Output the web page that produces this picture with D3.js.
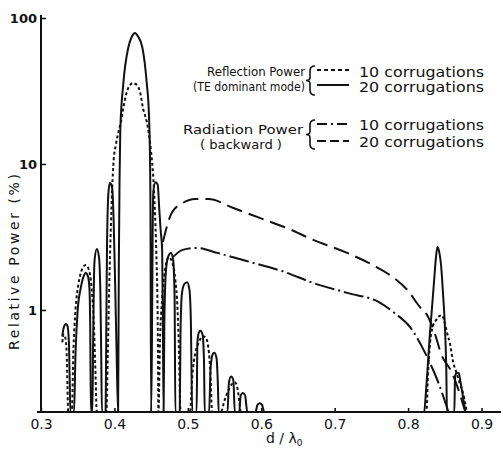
<!DOCTYPE html>
<html>
<head>
<meta charset="utf-8">
<script src="https://cdn.jsdelivr.net/npm/d3@7"></script>
<style>
  body { margin: 0; background: #fff; }
  text { font-family: "DejaVu Sans", sans-serif; fill: #111; }
</style>
</head>
<body>
<div id="chart"></div>
<script>
// Data: [d/lambda, relative power %]
const reflection10 = [
  [0.329, 0.6], [0.331, 0.68], [0.333, 0.65], [0.335, 0.5], [0.336, 0.3], [0.337, 0.2],
  [0.342, 0.2], [0.344, 0.5], [0.347, 1.0], [0.351, 1.5], [0.356, 1.9], [0.361, 2.03], [0.365, 1.9], [0.369, 1.4], [0.372, 0.8], [0.374, 0.4], [0.376, 0.2],
  [0.389, 0.2], [0.391, 0.5], [0.393, 1.5], [0.395, 3.5], [0.397, 6.9], [0.399, 10.6], [0.402, 13.5], [0.406, 17], [0.409, 19.5], [0.412, 24], [0.416, 30], [0.420, 34], [0.425, 35.8], [0.430, 35], [0.435, 31], [0.439, 24], [0.444, 19.5], [0.447, 16], [0.450, 12], [0.453, 8], [0.455, 5], [0.457, 2.5], [0.459, 0.8], [0.460, 0.2],
  [0.462, 0.6], [0.465, 1.2], [0.469, 1.9], [0.474, 2.3], [0.479, 2.1], [0.483, 1.6], [0.486, 1.0], [0.488, 0.5], [0.490, 0.2],
  [0.503, 0.2], [0.506, 0.35], [0.510, 0.5], [0.515, 0.6], [0.520, 0.66], [0.524, 0.65], [0.528, 0.55], [0.531, 0.35], [0.533, 0.2],
  [0.545, 0.2], [0.550, 0.24], [0.555, 0.28], [0.560, 0.31], [0.564, 0.32], [0.567, 0.3], [0.570, 0.24], [0.572, 0.2],
  [0.825, 0.2], [0.827, 0.35], [0.830, 0.6], [0.833, 0.75], [0.838, 0.85], [0.843, 0.91], [0.846, 0.92], [0.849, 0.85], [0.853, 0.7], [0.857, 0.59], [0.861, 0.45], [0.866, 0.37], [0.870, 0.32], [0.874, 0.28], [0.877, 0.24], [0.880, 0.2]
];

const reflection20 = [
  [0.329, 0.66], [0.331, 0.76], [0.334, 0.80], [0.336, 0.78], [0.338, 0.6], [0.339, 0.35], [0.340, 0.2],
  [0.345, 0.2], [0.347, 0.5], [0.350, 1.0], [0.354, 1.4], [0.358, 1.7], [0.361, 1.79], [0.364, 1.7], [0.366, 1.4], [0.367, 0.8], [0.368, 0.2],
  [0.370, 0.2], [0.371, 0.6], [0.372, 1.5], [0.373, 2.2], [0.376, 2.62], [0.379, 2.3], [0.381, 1.2], [0.382, 0.5], [0.383, 0.2],
  [0.388, 0.2], [0.389, 0.8], [0.390, 3], [0.392, 6.5], [0.394, 7.4], [0.397, 6.8], [0.399, 4], [0.401, 1.5], [0.403, 0.5], [0.405, 0.2],
  [0.406, 2], [0.407, 8], [0.408, 17], [0.412, 35], [0.419, 63], [0.424, 75], [0.428, 79], [0.432, 75], [0.438, 63], [0.444, 36], [0.447, 22], [0.448, 15], [0.449, 6], [0.450, 0.2],
  [0.451, 0.5], [0.452, 3], [0.453, 6.5], [0.456, 7.5], [0.459, 7.2], [0.461, 5], [0.463, 3.5], [0.465, 2.6], [0.466, 0.8], [0.467, 0.2],
  [0.468, 0.8], [0.470, 1.8], [0.473, 2.3], [0.477, 2.46], [0.480, 2.2], [0.482, 1.2], [0.483, 0.2],
  [0.489, 0.2], [0.490, 0.7], [0.492, 1.3], [0.495, 1.5], [0.499, 1.55], [0.502, 1.4], [0.504, 0.9], [0.506, 0.2],
  [0.512, 0.2], [0.513, 0.6], [0.515, 0.7], [0.517, 0.72], [0.520, 0.68], [0.522, 0.45], [0.523, 0.2],
  [0.529, 0.2], [0.531, 0.4], [0.534, 0.5], [0.536, 0.51], [0.539, 0.47], [0.541, 0.3], [0.542, 0.2],
  [0.554, 0.2], [0.556, 0.32], [0.559, 0.35], [0.562, 0.33], [0.564, 0.2],
  [0.570, 0.2], [0.572, 0.26], [0.575, 0.27], [0.578, 0.26], [0.581, 0.2],
  [0.592, 0.2], [0.595, 0.225], [0.598, 0.23], [0.601, 0.225], [0.604, 0.2],
  [0.822, 0.2], [0.824, 0.26], [0.827, 0.43], [0.830, 0.72], [0.832, 0.95], [0.836, 1.73], [0.838, 2.3], [0.840, 2.7], [0.842, 2.55], [0.845, 2.0], [0.848, 1.2], [0.850, 0.8], [0.852, 0.4], [0.853, 0.2],
  [0.863, 0.2], [0.864, 0.35], [0.866, 0.37], [0.869, 0.37], [0.871, 0.33], [0.875, 0.25], [0.878, 0.2]
];

const radiation10 = [
  [0.480, 2.31], [0.493, 2.58], [0.513, 2.66], [0.540, 2.46], [0.585, 2.13], [0.632, 1.82], [0.671, 1.53],
  [0.717, 1.31], [0.762, 1.12], [0.782, 0.95], [0.803, 0.76], [0.823, 0.51], [0.841, 0.32], [0.855, 0.2]
];

const radiation20 = [
  [0.466, 2.92], [0.478, 4.62], [0.493, 5.40], [0.510, 5.76], [0.528, 5.76], [0.562, 4.99], [0.598, 4.27],
  [0.635, 3.64], [0.671, 3.02], [0.717, 2.46], [0.752, 2.03], [0.775, 1.74], [0.799, 1.37], [0.816, 1.05],
  [0.826, 0.92], [0.836, 0.7], [0.845, 0.5], [0.860, 0.37], [0.867, 0.3], [0.878, 0.2]
];

const xTicks = [0.3, 0.4, 0.5, 0.6, 0.7, 0.8, 0.9];
const yTicks = [1, 10, 100];

// Layout
const width = 503, height = 450;
const svg = d3.select('#chart')
    .append('svg')
    .attr('width', width)
    .attr('height', height);

const x = d3.scaleLinear().domain([0.3, 0.9]).range([41, 481.5]);
const y = d3.scaleLog().domain([0.2, 100]).range([412, 18]);

// Axes (inward ticks)
const xAxis = d3.axisBottom(x)
    .tickValues(xTicks)
    .tickSize(-4)
    .tickPadding(7)
    .tickFormat(d3.format('.1f'));

const yAxis = d3.axisLeft(y)
    .tickValues(yTicks)
    .tickSize(-5)
    .tickPadding(4)
    .tickFormat(d3.format('d'));

const gx = svg.append('g')
    .attr('transform', `translate(0,${y(0.2)})`)
    .call(xAxis);
gx.select('.domain').remove();
gx.selectAll('.tick line').attr('stroke-width', 1.5);
gx.selectAll('text').style('font-size', '14px').attr('fill', '#111');

const gy = svg.append('g')
    .attr('transform', `translate(${x(0.3)},0)`)
    .call(yAxis);
gy.select('.domain').remove();
gy.selectAll('.tick line').attr('stroke-width', 1.5);
gy.selectAll('text').style('font-size', '13px').style('font-weight', 'bold').attr('fill', '#111');

// Axis lines
svg.append('line')
    .attr('x1', 37).attr('x2', 501)
    .attr('y1', y(0.2)).attr('y2', y(0.2))
    .attr('stroke', '#111').attr('stroke-width', 2);
svg.append('line')
    .attr('x1', x(0.3)).attr('x2', x(0.3))
    .attr('y1', 15).attr('y2', y(0.2))
    .attr('stroke', '#111').attr('stroke-width', 2);

// Axis titles
svg.append('text')
    .attr('transform', 'translate(19,262) rotate(-90)')
    .attr('text-anchor', 'middle')
    .attr('textLength', 176)
    .attr('lengthAdjust', 'spacing')
    .style('font-size', '14px')
    .text('Relative  Power  (%)');

const xt = svg.append('text')
    .attr('x', 266).attr('y', 443)
    .style('font-size', '14px')
    .text('d / λ');
xt.append('tspan')
    .attr('dy', 3)
    .style('font-size', '9px')
    .text('0');

// Curves
const line = d3.line()
    .x(d => x(d[0]))
    .y(d => y(d[1]))
    .curve(d3.curveMonotoneX);

const series = [
    { data: reflection10, dash: '3,2.5' },
    { data: reflection20, dash: null },
    { data: radiation10, dash: '20,4,2,4' },
    { data: radiation20, dash: '16,7' }
];

svg.selectAll('.curve')
    .data(series)
    .enter()
    .append('path')
    .attr('class', 'curve')
    .attr('d', d => line(d.data))
    .attr('fill', 'none')
    .attr('stroke', '#111')
    .attr('stroke-width', 2)
    .attr('stroke-dasharray', d => d.dash);

// Legend
const legendRows = [
    { y: 70, ty: 77, label: '10 corrugations', dash: '4,3' },
    { y: 85, ty: 92, label: '20 corrugations', dash: null },
    { y: 124, ty: 130, label: '10 corrugations', dash: '10,4,2,4' },
    { y: 141, ty: 147, label: '20 corrugations', dash: '9,4' }
];

const legend = svg.append('g');

legend.selectAll('line')
    .data(legendRows)
    .enter()
    .append('line')
    .attr('x1', 317).attr('x2', 349)
    .attr('y1', d => d.y).attr('y2', d => d.y)
    .attr('stroke', '#111')
    .attr('stroke-width', 2)
    .attr('stroke-dasharray', d => d.dash);

legend.selectAll('.lbl')
    .data(legendRows)
    .enter()
    .append('text')
    .attr('class', 'lbl')
    .attr('x', 359)
    .attr('y', d => d.ty)
    .attr('textLength', 125)
    .attr('lengthAdjust', 'spacingAndGlyphs')
    .style('font-size', '14px')
    .text(d => d.label);

const groupLabels = [
    { x: 305, y: 76, anchor: 'end', len: 98, text: 'Reflection Power' },
    { x: 305, y: 91, anchor: 'end', len: 112, text: '(TE dominant mode)' },
    { x: 303, y: 134, anchor: 'end', len: 120, text: 'Radiation Power' },
    { x: 241, y: 149, anchor: 'middle', len: 82, text: '( backward )' }
];

legend.selectAll('.grp')
    .data(groupLabels)
    .enter()
    .append('text')
    .attr('class', 'grp')
    .attr('x', d => d.x)
    .attr('y', d => d.y)
    .attr('text-anchor', d => d.anchor)
    .attr('textLength', d => d.len)
    .attr('lengthAdjust', 'spacingAndGlyphs')
    .style('font-size', '13px')
    .text(d => d.text);

// Braces
const braces = [[66, 95], [120, 149]];
legend.selectAll('.brace')
    .data(braces)
    .enter()
    .append('path')
    .attr('class', 'brace')
    .attr('d', ([t, b]) => {
        const m = (t + b) / 2;
        return `M315,${t} Q310,${t} 310,${t + 5} L310,${m - 3} Q310,${m} 306,${m} Q310,${m} 310,${m + 3} L310,${b - 5} Q310,${b} 315,${b}`;
    })
    .attr('fill', 'none')
    .attr('stroke', '#111')
    .attr('stroke-width', 1.6);
</script>
</body>
</html>
